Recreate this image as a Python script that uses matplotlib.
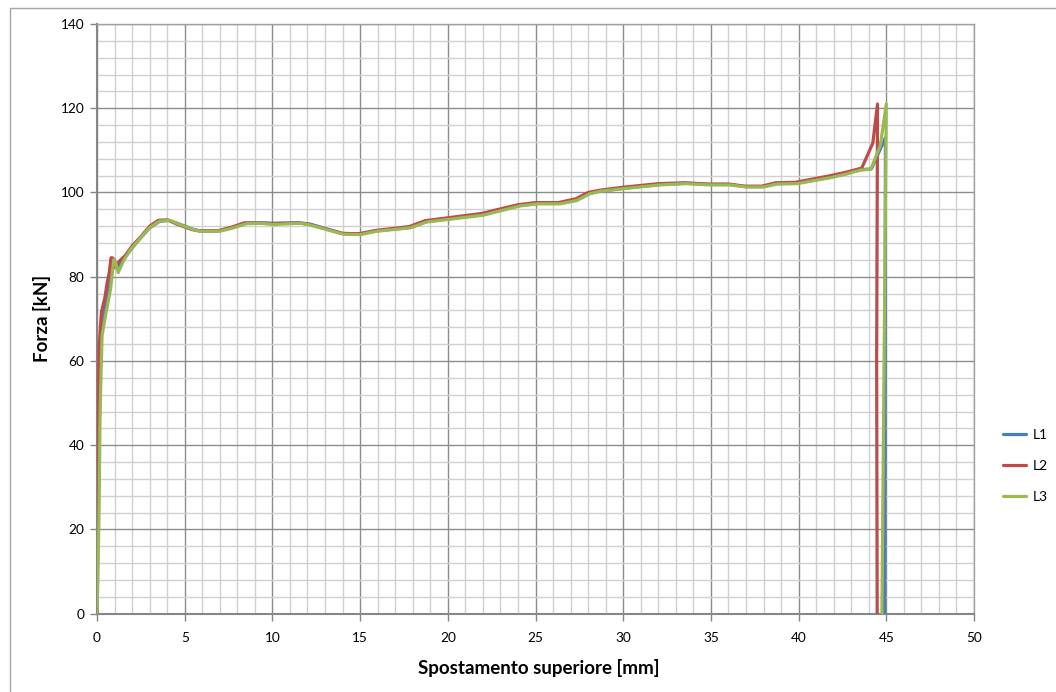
import matplotlib
matplotlib.use("Agg")
import matplotlib.pyplot as plt
from matplotlib.ticker import MultipleLocator
from matplotlib.patches import Rectangle

# Force-displacement curves, three specimens
l1_x = [0, 0.03, 0.08, 0.12, 0.16, 0.27, 0.46, 0.7, 0.88, 0.98, 1.15, 1.45, 1.9, 2.4, 2.98, 3.55, 4.1,
        4.7, 5.45, 5.85, 6.95, 7.75, 8.5, 9.3, 10.05, 11.55, 12.15, 14.05, 15.0, 15.95, 17.85, 18.8,
        22.0, 24.1, 25.1, 26.4, 27.35, 28.1, 28.7, 30.0, 32.1, 33.6, 34.95, 36.1, 37.0, 38.0, 38.75,
        39.9, 41.8, 42.75, 43.5, 44.15, 44.95, 44.9]
l1_y = [0, 12, 30, 50, 60, 68.5, 73, 78, 83.5, 84.2, 82, 83.8, 86.3, 88.8, 91.5, 93.1, 93.4,
        92.5, 91.3, 90.9, 90.9, 91.7, 92.7, 92.8, 92.7, 92.8, 92.5, 90.2, 90.1, 90.9, 91.7, 93.1,
        94.7, 96.9, 97.4, 97.4, 98.2, 99.8, 100.3, 101.0, 101.9, 102.2, 101.9, 101.9, 101.4, 101.4,
        102.1, 102.2, 103.6, 104.5, 105.4, 105.6, 113.0, 0]

l2_x = [0, 0.02, 0.05, 0.08, 0.12, 0.25, 0.45, 0.58, 0.7, 0.8, 0.88, 0.92, 1.05, 1.3, 1.6, 2.0, 2.5,
        3.0, 3.5, 4.0, 4.6, 5.4, 5.8, 6.9, 7.7, 8.4, 9.3, 10.0, 11.5, 12.1, 14.0, 14.9, 15.9, 17.8,
        18.7, 21.9, 24.0, 25.0, 26.3, 27.3, 28.0, 28.6, 29.9, 32.0, 33.5, 34.9, 36.0, 36.9, 37.9,
        38.7, 39.8, 41.7, 42.7, 43.6, 44.23, 44.5, 44.45, 44.48]
l2_y = [0, 15, 38, 55, 63, 71.6, 75, 78.6, 81, 84.5, 84.5, 82, 82.5, 83.8, 85, 87.3, 89.5,
        92.0, 93.4, 93.5, 92.4, 91.2, 90.9, 90.9, 91.8, 92.8, 92.8, 92.6, 92.8, 92.4, 90.3, 90.2,
        91.0, 91.9, 93.3, 95.0, 97.1, 97.6, 97.6, 98.5, 100.0, 100.5, 101.2, 102.1, 102.3, 102.0,
        102.0, 101.5, 101.5, 102.3, 102.4, 103.9, 104.8, 105.8, 111.7, 121.0, 60.0, 0]

l3_x = [0, 0.05, 0.12, 0.17, 0.2, 0.29, 0.48, 0.77, 0.96, 1.05, 1.21, 1.54, 1.92, 2.4, 2.98, 3.56,
        4.13, 4.7, 5.48, 5.87, 7.0, 7.77, 8.53, 9.33, 10.05, 11.57, 12.14, 14.04, 15.0, 15.95,
        17.85, 18.8, 22.0, 24.1, 25.1, 26.4, 27.35, 28.1, 28.68, 30.0, 32.1, 33.6, 34.95, 36.1,
        37.0, 38.0, 38.75, 39.9, 41.8, 42.74, 43.5, 44.12, 44.66, 45.0, 44.75]
l3_y = [0, 8, 25, 45, 52, 66, 70.7, 77, 84.1, 83.5, 81, 84, 86.5, 88.8, 91.6, 93.2, 93.4, 92.4,
        91.2, 90.8, 90.8, 91.6, 92.6, 92.7, 92.4, 92.7, 92.3, 90.1, 90.0, 90.8, 91.6, 93.0, 94.6,
        96.8, 97.3, 97.3, 98.1, 99.7, 100.3, 100.9, 101.8, 102.1, 101.8, 101.8, 101.3, 101.3,
        102.0, 102.1, 103.5, 104.4, 105.3, 105.5, 111.2, 121.0, 0]

series = [("L1", l1_x, l1_y, "#4A7EBB"),
          ("L2", l2_x, l2_y, "#BE4B48"),
          ("L3", l3_x, l3_y, "#98B954")]

plt.rcParams["font.family"] = ["Lato", "DejaVu Sans"]

fig = plt.figure(figsize=(10.56, 6.92), dpi=100)
ax = fig.add_axes([97 / 1056, 1 - 613.7 / 692, (974 - 97) / 1056, (613.7 - 24) / 692])

# outer chart frame
fig.patches.append(Rectangle((10 / 1056, -0.1), 1.2, 1.1 - 8 / 692, transform=fig.transFigure,
                             fill=False, edgecolor="#A6A6A6", linewidth=1.0, zorder=0))

for name, xs, ys, col in series:
    ax.plot(xs, ys, color=col, linewidth=2.3, label=name, solid_joinstyle="round",
            solid_capstyle="round", zorder=3)

ax.set_xlim(0, 50)
ax.set_ylim(0, 140)
ax.xaxis.set_major_locator(MultipleLocator(5))
ax.xaxis.set_minor_locator(MultipleLocator(1))
ax.yaxis.set_major_locator(MultipleLocator(20))
ax.yaxis.set_minor_locator(MultipleLocator(4))
ax.grid(which="major", color="#8C8C8C", linewidth=1.0, zorder=0)
ax.grid(which="minor", color="#D0D0D0", linewidth=1.0, zorder=0)
ax.set_axisbelow(True)

for side in ("left", "bottom"):
    ax.spines[side].set_color("#868686")
    ax.spines[side].set_linewidth(1.5)
for side in ("right", "top"):
    ax.spines[side].set_color("#A0A0A0")
    ax.spines[side].set_linewidth(1.0)

ax.tick_params(which="major", direction="out", length=5, width=1, color="#868686",
               labelsize=9.8, pad=4)
ax.tick_params(axis="x", which="major", pad=8)
ax.tick_params(which="minor", length=0)

ax.set_xlabel("Spostamento superiore [mm]", fontsize=13.5, fontweight="bold", va="center")
ax.set_ylabel("Forza [kN]", fontsize=13.5, fontweight="bold", va="center")
ax.xaxis.set_label_coords((539 - 97) / 877, (613.7 - 668) / 589.7)
ax.yaxis.set_label_coords((42 - 97) / 877, (613.7 - 318) / 589.7)

ax.legend(loc="center left", bbox_to_anchor=(997 / 1056, 1 - 466 / 692),
          bbox_transform=fig.transFigure, frameon=False, fontsize=10,
          handlelength=1.7, handletextpad=0.45, labelspacing=1.35, borderaxespad=0)

fig.savefig("out.png", dpi=100)
